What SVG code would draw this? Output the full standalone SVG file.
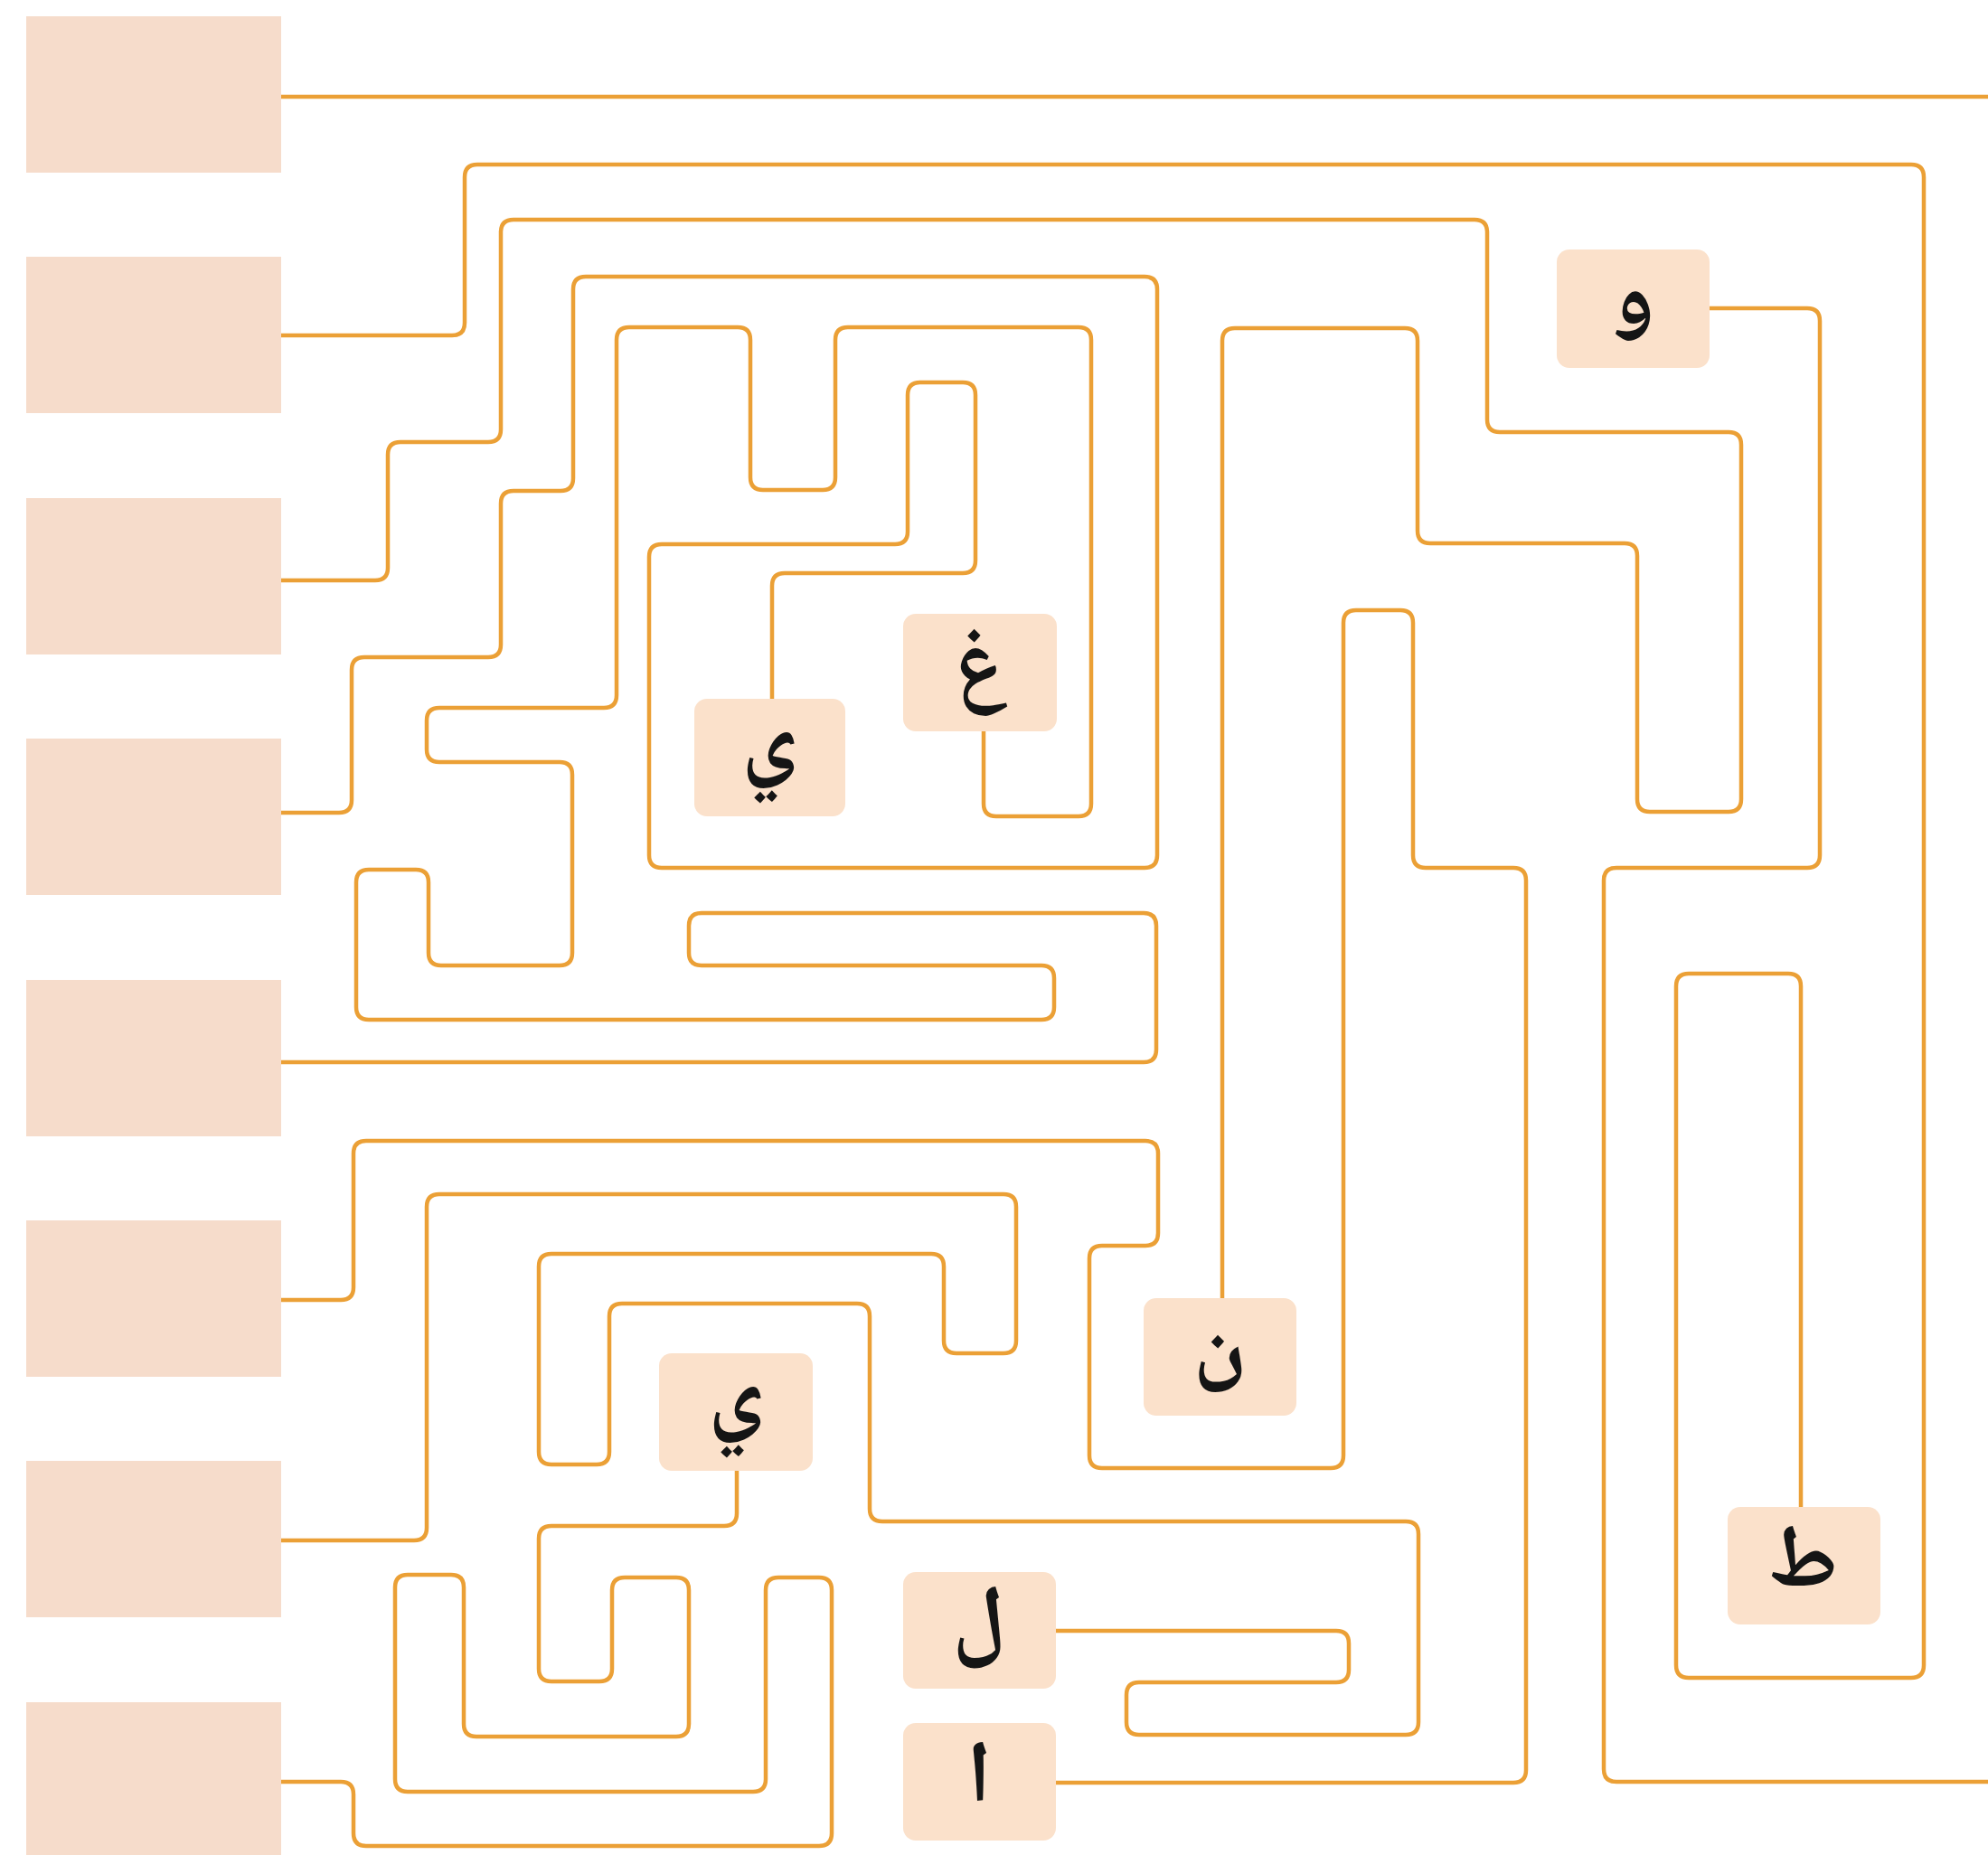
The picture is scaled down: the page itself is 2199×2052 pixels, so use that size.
<svg xmlns="http://www.w3.org/2000/svg" width="2199" height="2052" viewBox="0 0 2199 2052">
<style>
.slot{fill:#F6DCCB}
.lab{fill:#FBE1CB}
.t{font-family:"Noto Naskh Arabic","Amiri","DejaVu Sans","Noto Sans",sans-serif;font-size:97px;font-weight:bold;fill:#151515;text-anchor:middle;dominant-baseline:central}
.w{fill:none;stroke:#EBA036;stroke-width:4.5;stroke-linecap:butt;stroke-linejoin:round}
</style>
<rect x="0" y="0" width="2199" height="2052" fill="#FFFFFF"/>
<g id="slots">
<rect id="slot1" class="slot" x="29" y="18" width="282" height="173"/>
<rect id="slot2" class="slot" x="29" y="284" width="282" height="173"/>
<rect id="slot3" class="slot" x="29" y="551" width="282" height="173"/>
<rect id="slot4" class="slot" x="29" y="817" width="282" height="173"/>
<rect id="slot5" class="slot" x="29" y="1084" width="282" height="173"/>
<rect id="slot6" class="slot" x="29" y="1350" width="282" height="173"/>
<rect id="slot7" class="slot" x="29" y="1616" width="282" height="173"/>
<rect id="slot8" class="slot" x="29" y="1883" width="282" height="173"/>
</g>
<g id="connectors" class="w">
<path d="M311,107 H2199"/>
<path d="M311,371 H500 Q514,371 514,357 V196 Q514,182 528,182 H2114 Q2128,182 2128,196 V1842 Q2128,1856 2114,1856 H1868 Q1854,1856 1854,1842 V1091 Q1854,1077 1868,1077 H1978 Q1992,1077 1992,1091 V1667"/>
<path d="M311,642 H415 Q429,642 429,628 V503 Q429,489 443,489 H540 Q554,489 554,475 V257 Q554,243 568,243 H1631 Q1645,243 1645,257 V464 Q1645,478 1659,478 H1912 Q1926,478 1926,492 V884 Q1926,898 1912,898 H1825 Q1811,898 1811,884 V615 Q1811,601 1797,601 H1582 Q1568,601 1568,587 V377 Q1568,363 1554,363 H1366 Q1352,363 1352,377 V1436"/>
<path d="M311,899 H375 Q389,899 389,885 V741 Q389,727 403,727 H540 Q554,727 554,713 V557 Q554,543 568,543 H620 Q634,543 634,529 V320 Q634,306 648,306 H1266 Q1280,306 1280,320 V946 Q1280,960 1266,960 H732 Q718,960 718,946 V616 Q718,602 732,602 H990 Q1004,602 1004,588 V437 Q1004,423 1018,423 H1065 Q1079,423 1079,437 V620 Q1079,634 1065,634 H868 Q854,634 854,648 V773"/>
<path d="M311,1175 H1265 Q1279,1175 1279,1161 V1024 Q1279,1010 1265,1010 H776 Q762,1010 762,1024 V1054 Q762,1068 776,1068 H1152 Q1166,1068 1166,1082 V1114 Q1166,1128 1152,1128 H408 Q394,1128 394,1114 V976 Q394,962 408,962 H460 Q474,962 474,976 V1054 Q474,1068 488,1068 H619 Q633,1068 633,1054 V857 Q633,843 619,843 H486 Q472,843 472,829 V797 Q472,783 486,783 H668 Q682,783 682,769 V376 Q682,362 696,362 H816 Q830,362 830,376 V528 Q830,542 844,542 H910 Q924,542 924,528 V376 Q924,362 938,362 H1193 Q1207,362 1207,376 V889 Q1207,903 1193,903 H1102 Q1088,903 1088,889 V809"/>
<path d="M311,1438 H377 Q391,1438 391,1424 V1276 Q391,1262 405,1262 H1267 Q1281,1262 1281,1276 V1364 Q1281,1378 1267,1378 H1219 Q1205,1378 1205,1392 V1610 Q1205,1624 1219,1624 H1472 Q1486,1624 1486,1610 V689 Q1486,675 1500,675 H1549 Q1563,675 1563,689 V946 Q1563,960 1577,960 H1674 Q1688,960 1688,974 V1958 Q1688,1972 1674,1972 H1168"/>
<path d="M311,1704 H458 Q472,1704 472,1690 V1335 Q472,1321 486,1321 H1110 Q1124,1321 1124,1335 V1483 Q1124,1497 1110,1497 H1058 Q1044,1497 1044,1483 V1401 Q1044,1387 1030,1387 H610 Q596,1387 596,1401 V1606 Q596,1620 610,1620 H660 Q674,1620 674,1606 V1456 Q674,1442 688,1442 H948 Q962,1442 962,1456 V1669 Q962,1683 976,1683 H1555 Q1569,1683 1569,1697 V1905 Q1569,1919 1555,1919 H1260 Q1246,1919 1246,1905 V1875 Q1246,1861 1260,1861 H1478 Q1492,1861 1492,1847 V1818 Q1492,1804 1478,1804 H1168"/>
<path d="M311,1971 H377 Q391,1971 391,1985 V2028 Q391,2042 405,2042 H906 Q920,2042 920,2028 V1759 Q920,1745 906,1745 H861 Q847,1745 847,1759 V1968 Q847,1982 833,1982 H451 Q437,1982 437,1968 V1756 Q437,1742 451,1742 H499 Q513,1742 513,1756 V1907 Q513,1921 527,1921 H748 Q762,1921 762,1907 V1759 Q762,1745 748,1745 H691 Q677,1745 677,1759 V1846 Q677,1860 663,1860 H610 Q596,1860 596,1846 V1702 Q596,1688 610,1688 H801 Q815,1688 815,1674 V1627"/>
<path d="M1891,341 H1999 Q2013,341 2013,355 V946 Q2013,960 1999,960 H1788 Q1774,960 1774,974 V1957 Q1774,1971 1788,1971 H2199"/>
</g>
<g id="n-waw"><rect class="lab" x="1722" y="276" width="169" height="131" rx="14"/><text class="t" x="1806" y="336">و</text></g>
<g id="n-ghain"><rect class="lab" x="999" y="679" width="170" height="130" rx="14"/><text class="t" x="1084" y="741">غ</text></g>
<g id="n-ya1"><rect class="lab" x="768" y="773" width="167" height="130" rx="14"/><text class="t" x="851" y="826">ي</text></g>
<g id="n-nun"><rect class="lab" x="1265" y="1436" width="169" height="130" rx="14"/><text class="t" x="1349" y="1494">ن</text></g>
<g id="n-ya2"><rect class="lab" x="729" y="1497" width="170" height="130" rx="14"/><text class="t" x="814" y="1550">ي</text></g>
<g id="n-lam"><rect class="lab" x="999" y="1739" width="169" height="129" rx="14"/><text class="t" x="1083" y="1799">ل</text></g>
<g id="n-alif"><rect class="lab" x="999" y="1906" width="169" height="130" rx="14"/><text class="t" x="1083" y="1971">ا</text></g>
<g id="n-ta"><rect class="lab" x="1911" y="1667" width="169" height="130" rx="14"/><text class="t" x="1995" y="1732">ط</text></g>
</svg>
